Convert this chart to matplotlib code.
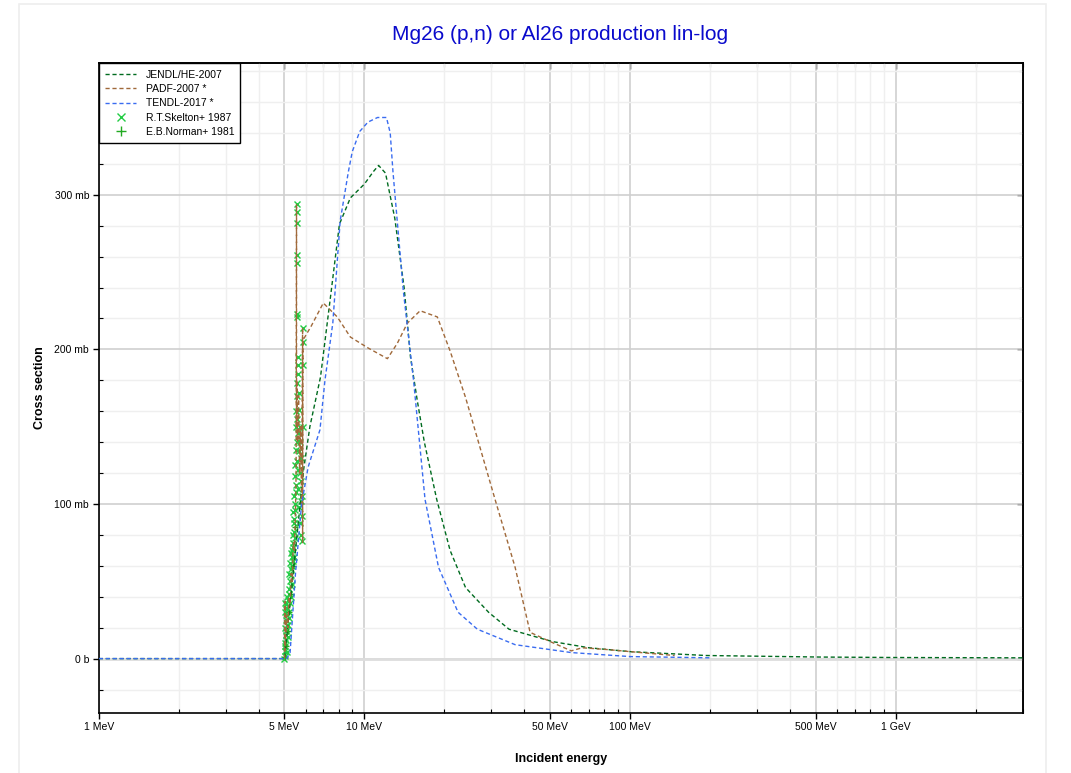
import numpy as np
import matplotlib
matplotlib.use("Agg")
import matplotlib.pyplot as plt
from matplotlib.ticker import FixedLocator, NullFormatter, MultipleLocator
from matplotlib.patches import Rectangle

plt.rcParams['font.family'] = ['Liberation Sans', 'DejaVu Sans']

# energies in MeV, cross sections in mb
jendl_e = [1, 4.9, 5.0, 5.5, 5.9, 6.23, 6.83, 7.45, 8.05, 8.85, 10.0, 10.8, 11.3, 12.0,
           13.0, 14.1, 14.9, 15.8, 16.8, 17.7, 18.7, 21, 24, 29.3, 35, 51, 70, 100,
           193, 520, 1000, 3000]
jendl_s = [0, 0, 0, 70, 122, 150, 182, 234, 281, 298, 307, 315, 319, 314,
           285, 240, 195, 167, 140, 122, 103, 70, 46, 30, 19, 11, 7, 4.5,
           2, 1, 0.7, 0.5]

padf_e = [5.0, 5.03, 5.03, 5.06, 5.10, 5.15, 5.20, 5.25, 5.30, 5.35, 5.40, 5.45, 5.50,
          5.53, 5.55, 5.55, 5.57, 5.60, 5.65, 5.70, 5.75, 5.80, 5.85, 5.85, 5.87,
          6.3, 7.0, 7.9, 8.85, 10.3, 12.2, 13.3, 14.5, 16.2, 18.8, 21, 24, 31,
          36.9, 42, 50, 60, 66, 80, 100, 147]
padf_s = [0, 37, 5, 15, 28, 20, 40, 35, 55, 50, 75, 70, 95,
          120, 294, 150, 180, 140, 170, 120, 150, 100, 214, 75, 206,
          215, 230, 221, 208, 201, 194, 204, 217, 225, 221, 199, 169, 103,
          59, 17, 11, 5, 7, 6, 4.5, 2]

tendl_e = [1, 5.0, 5.1, 5.25, 5.5, 5.8, 6.14, 6.8, 7.1, 7.6, 8.1, 8.7, 9.0, 9.6, 10.3,
           11.2, 12.1, 12.5, 12.8, 14.0, 15.3, 16.9, 19, 22.5, 26.6, 36.9, 60, 100, 200]
tendl_s = [0, 0, 0, 4, 55, 100, 124, 148, 180, 217, 283, 315, 328, 341, 347,
           350, 350, 340, 315, 238, 180, 103, 59, 30, 19, 9, 3.9, 1.3, 0.5]

skelton_e = [5.00, 5.01, 5.02, 5.03, 5.03, 5.03, 5.04, 5.05, 5.06, 5.07, 5.08, 5.10, 5.12,
             5.14, 5.16, 5.18, 5.20, 5.22, 5.24, 5.26, 5.28, 5.30, 5.32, 5.34, 5.36,
             5.38, 5.40, 5.42, 5.44, 5.46, 5.48, 5.50, 5.52, 5.53, 5.54, 5.55, 5.55,
             5.55, 5.55, 5.55, 5.55, 5.55, 5.56, 5.57, 5.58, 5.60, 5.62, 5.64, 5.66,
             5.68, 5.70, 5.72, 5.75, 5.78, 5.80, 5.85, 5.85, 5.86, 5.85,
             5.04, 5.06, 5.09, 5.11, 5.13, 5.17, 5.19, 5.21, 5.23, 5.27, 5.29, 5.31,
             5.33, 5.35, 5.37, 5.39, 5.41, 5.43, 5.45, 5.47, 5.49, 5.51, 5.53, 5.56,
             5.58, 5.60, 5.62, 5.64, 5.66, 5.69, 5.72, 5.74, 5.77, 5.79, 5.82, 5.84]
skelton_s = [0, 2, 5, 10, 20, 36, 30, 35, 12, 25, 18, 28, 40,
             22, 38, 30, 45, 55, 50, 62, 58, 68, 66, 70, 80,
             75, 95, 88, 105, 100, 118, 125, 135, 150, 160, 221, 223,
             256, 261, 282, 289, 294, 170, 155, 178, 184, 190, 195, 172,
             161, 150, 140, 130, 115, 105, 214, 205, 150, 190,
             8, 15, 4, 22, 33, 14, 26, 42, 36, 47, 40, 54,
             60, 48, 63, 72, 66, 82, 90, 78, 96, 108, 112, 128,
             140, 122, 146, 110, 134, 98, 120, 88, 102, 80, 92, 76]

norman_e = [5.02, 5.08, 5.15, 5.22, 5.30, 5.40, 5.48]
norman_s = [1, 8, 18, 30, 42, 60, 85]

fig = plt.figure(figsize=(10.71, 7.73), dpi=100)
fig.patches.append(Rectangle((0.0177, -0.05), 0.959, 1.045, transform=fig.transFigure,
                             fill=False, edgecolor='#eeeeee', linewidth=1.2))
ax = fig.add_axes([0.0922, 0.078, 0.8627, 0.840])

ax.set_xscale('log')
ax.set_xlim(1, 3000)
ax.set_ylim(-35, 385)

dash = (0, (3, 2))
ax.plot(skelton_e, skelton_s, ls='none', marker='x', ms=4, mew=1.0, color='#22cc44',
        label='R.T.Skelton+ 1987', zorder=3)
ax.plot(norman_e, norman_s, ls='none', marker='+', ms=4.5, mew=1.0, color='#22aa22',
        label='E.B.Norman+ 1981', zorder=3)
ax.plot(jendl_e, jendl_s, ls=dash, lw=1.0, color='#006b1f', label='JENDL/HE-2007', zorder=4)
ax.plot(padf_e, padf_s, ls=dash, lw=1.0, color='#a0693a', label='PADF-2007 *', zorder=4)
ax.plot(tendl_e, tendl_s, ls=dash, lw=1.0, color='#3a6cf0', label='TENDL-2017 *', zorder=4)

# ticks
xmaj = [1, 5, 10, 50, 100, 500, 1000]
xlab = ['1 MeV', '5 MeV', '10 MeV', '50 MeV', '100 MeV', '500 MeV', '1 GeV']
xmin = [2, 3, 4, 6, 7, 8, 9, 20, 30, 40, 60, 70, 80, 90, 200, 300, 400,
        600, 700, 800, 900, 2000, 3000]
ymaj = [0, 100, 200, 300]
ylab = ['0 b', '100 mb', '200 mb', '300 mb']
ax.xaxis.set_major_locator(FixedLocator(xmaj))
ax.set_xticklabels(xlab)
ax.xaxis.set_minor_locator(FixedLocator(xmin))
ax.xaxis.set_minor_formatter(NullFormatter())
ax.set_yticks(ymaj)
ax.set_yticklabels(ylab)
ax.yaxis.set_minor_locator(MultipleLocator(20))

ax.tick_params(which='major', direction='out', length=4, width=1, labelsize=7.5, pad=3)
ax.tick_params(which='minor', direction='in', length=3, width=0.8)

# inward ticks on top and right
sx = ax.secondary_xaxis('top')
sx.xaxis.set_major_locator(FixedLocator(xmaj))
sx.xaxis.set_minor_locator(FixedLocator(xmin))
sx.tick_params(which='both', direction='in', labeltop=False)
sx.tick_params(which='major', length=4, width=1)
sx.tick_params(which='minor', length=3, width=0.8)
sy = ax.secondary_yaxis('right')
sy.yaxis.set_major_locator(FixedLocator(ymaj))
sy.yaxis.set_minor_locator(MultipleLocator(20))
sy.tick_params(which='both', direction='in', labelright=False)
sy.tick_params(which='major', length=4, width=1)
sy.tick_params(which='minor', length=3, width=0.8)
for s in (sx, sy):
    for sp in s.spines.values():
        sp.set_linewidth(1.2)

ax.grid(True, which='major', color='#cfcfcf', lw=1.2, zorder=0)
ax.grid(True, which='minor', color='#efefef', lw=1.0, zorder=0)
ax.axhline(0, color='#dddddd', lw=2.0, zorder=1)
ax.set_axisbelow(True)
for sp in ax.spines.values():
    sp.set_linewidth(1.2)

ax.set_xlabel('Incident energy', fontsize=9, fontweight='bold', labelpad=15)
ax.set_ylabel('Cross section', fontsize=9, fontweight='bold', labelpad=6)
fig.text(0.5227, 0.955, 'Mg26 (p,n) or Al26 production lin-log', color='#0a0acc',
         fontsize=15, ha='center', va='center')

handles, labels = ax.get_legend_handles_labels()
order = [2, 3, 4, 0, 1]
leg = ax.legend([handles[i] for i in order], [labels[i] for i in order],
                loc='upper left', borderaxespad=0, fancybox=False, fontsize=7.5,
                edgecolor='black', framealpha=1, handlelength=3.0, markerscale=1.6,
                borderpad=0.6, labelspacing=0.42, handletextpad=0.9)
leg.get_frame().set_linewidth(1.0)

fig.savefig('out.png', dpi=100)
